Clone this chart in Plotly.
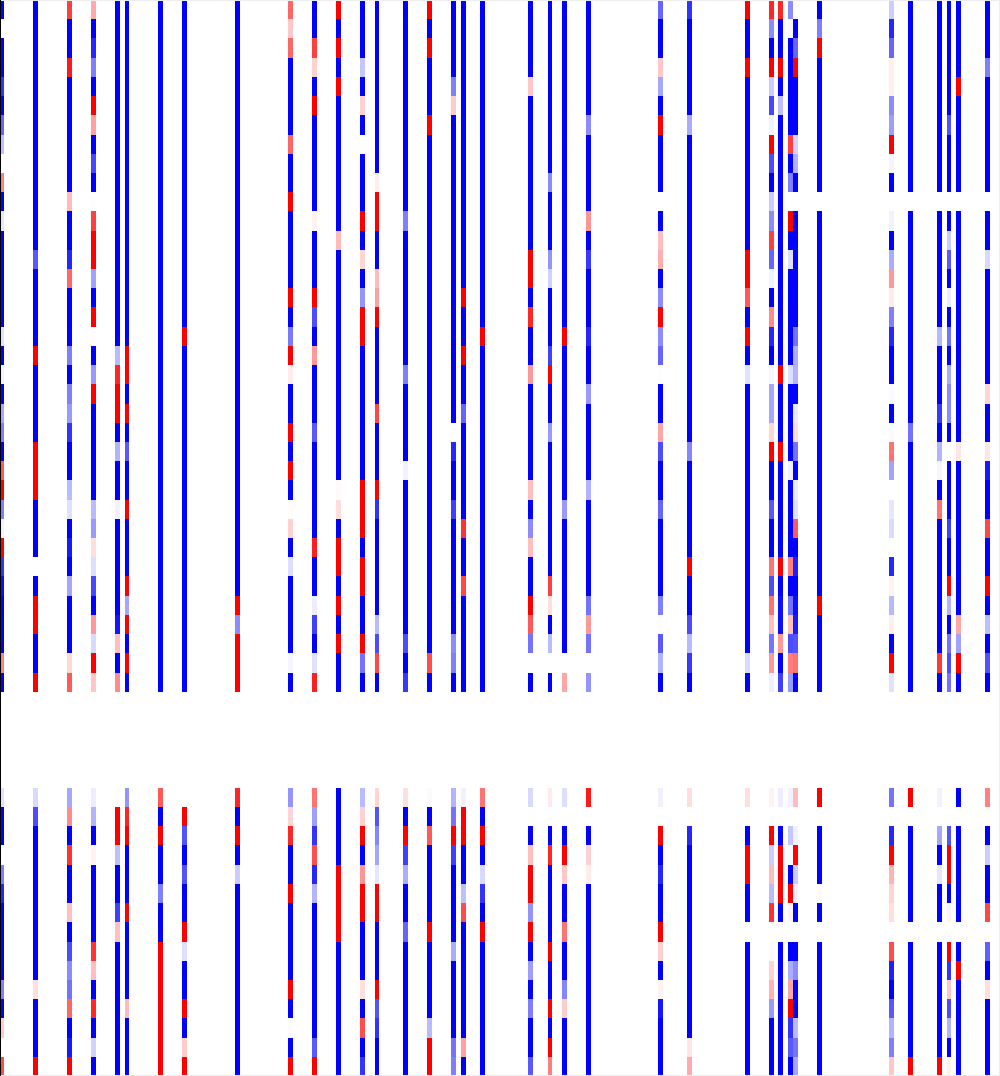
import plotly.graph_objects as go

B = -1
R = 1
COLUMN_COUNT = 208
ROW_COUNT = 56

# Each list holds rows 0-35, five blank rows 36-40, then rows 41-55.
col_000 = [B,0,B,B,-.8,B, -.6,-.25,0,.5,B,-.1, B,B,B,B,B,-.12,
           B,-.05,B,-.35,-.5,B, .65,R,-.5,-.05,R,-.8, -.95,B,B,B,.5,B, 0,0,0,0,0,
           -.12,B,B,0,-.5,-.85, B,B,B,B,-.5,B, .2,0,.7]
col_007 = [B,B,B,B,B,B, B,B,B,B,B,B, B,-.65,B,B,B,B,
           R,B,B,B,B,R, R,R,B,B,B,0, B,R,R,B,B,R, 0,0,0,0,0,
           -.15,-.7,B,B,B,B, B,B,B,B,.13,B, B,B,R]
col_014 = [.75,B,B,.9,B,B, B,B,B,B,.27,B, B,-.85,.6,B,B,B,
           -.5,B,-.5,-.4,-.8,B, B,-.27,-.12,B,-.9,B, -.35,B,B,B,.15,.65, 0,0,0,0,0,
           -.35,.45,B,.8,B,B, .25,B,-.7,-.45,-.55,.6, B,-.9,R]
col_019 = [.33,B,-.85,-.5,B,R, .37,B,-.72,B,.01,.75, R,R,-.37,B,R,.01,
           B,-.4,R,B,B,B, B,B,-.27,-.4,.13,-.13, -.72,B,.4,-.15,R,.22, 0,0,0,0,0,
           -.07,-.3,B,.05,B,B, B,B,.8,.25,B,.85, B,-.18,B]
col_024 = [B,B,B,B,B,B, B,B,B,B,B,B, B,B,B,B,B,B,
           -.27,.85,R,R,B,-.3, B,B,-.05,B,B,B, B,B,-.92,.25,B,.45, 0,0,0,0,0,
           .01,R,R,-.25,B,B, -.75,.25,B,B,B,B, B,B,B]
col_026 = [B,B,B,B,B,B, B,B,B,B,B,B, B,B,B,B,B,B,
           R,R,B,R,B,-.65, B,B,R,B,B,B, R,-.35,R,B,R,B, 0,0,0,0,0,
           -.42,.85,R,B,B,B, R,B,B,B,B,.27, B,B,B]
col_033 = [B,B,B,B,B,B, B,B,B,B,B,B, B,B,B,B,B,B,
           B,B,B,B,B,B, B,B,B,B,B,B, B,B,B,B,B,B, 0,0,0,0,0,
           .65,B,R,B,B,-.5, B,B,R,R,R,R, R,R,R]
col_038 = [B,B,B,B,B,B, B,B,B,B,B,B, B,B,B,B,B,R,
           B,B,B,B,B,B, B,B,B,B,B,B, B,B,B,B,B,B, 0,0,0,0,0,
           0,R,-.68,B,-.68,B, B,R,-.13,B,B,R, B,.2,R]
col_049 = [B,B,B,B,B,B, B,B,B,B,B,B, B,B,B,B,B,B,
           B,B,B,B,B,B, B,B,B,B,B,B, B,R,-.45,R,R,R, 0,0,0,0,0,
           .85,B,R,B,-.2,B, B,B,B,B,B,B, B,B,B]
col_060 = [.6,.22,.6,B,B,B, B,.6,B,B,R,B, B,B,B,R,B,-.52,
           R,.07,B,B,R,B, R,B,.01,.18,B,-.13, B,B,B,B,-.04,B, 0,0,0,0,0,
           -.42,.17,.85,B,B,R, B,B,B,B,R,B, -.01,B,R]
col_065 = [B,B,.75,.18,B,R, B,B,B,B,B,.05, B,B,B,R,-.7,B,
           .4,B,B,B,-.65,B, B,B,B,B,.88,B, B,-.07,-.75,B,-.12,.88, 0,0,0,0,0,
           .55,-.38,-.8,.7,-.85,-.3, B,B,B,B,B,B, B,-.65,R]
col_070 = [R,B,R,B,R,B, B,B,B,B,B,B, .27,B,B,B,B,B,
           B,B,B,B,B,B, B,.02,.13,B,R,R, B,R,B,R,B,B, 0,0,0,0,0,
           B,B,B,B,R,R, R,R,B,B,B,B, B,B,B]
col_075 = [B,B,B,-.22,B,.18, B,0,B,B,B,R, B,.17,B,-.42,R,R,
           B,B,B,B,B,B, B,R,R,R,B,R, R,B,B,R,-.55,B, 0,0,0,0,0,
           -.27,.18,R,B,.42,R, R,B,B,B,.12,B, .7,B,-.8]
col_078 = [B,B,B,B,B,B, B,B,B,.07,R,R, B,B,.27,.37,R,B,
           B,B,B,.72,B,B, B,R,-.8,B,B,B, B,B,-.27,-.7,.72,B, 0,0,0,0,0,
           .17,-.68,-.48,-.35,-.1,R, R,B,B,B,R,-.68, -.8,B,B]
col_084 = [B,B,B,B,B,B, B,B,B,B,B,-.5, B,B,B,B,B,B,
           B,-.5,B,B,B,B, -.05,B,B,B,B,B, B,B,B,-.7,B,-.78, 0,0,0,0,0,
           .12,B,R,-.75,-.32,B, B,-.6,B,B,B,B, B,B,B]
col_089 = [R,B,R,B,B,B, R,B,B,B,B,B, B,B,B,B,B,B,
           B,B,B,B,B,B, B,B,B,B,B,B, B,B,B,B,.7,B, 0,0,0,0,0,
           -.02,B,.65,B,B,B, B,R,B,B,B,B, -.27,R,R]
col_094 = [B,B,B,B,-.5,.2, B,B,B,B,B,B, B,B,B,B,B,B,
           B,B,B,B,0,-.85, B,B,-.75,B,B,B, B,B,B,-.45,-.5,B, 0,0,0,0,0,
           -.3,-.55,R,-.75,B,B, B,B,-.33,B,B,B, B,-.55,-.5]
col_096 = [B,B,B,B,B,B, B,B,B,B,B,B, B,B,B,R,B,B,
           R,B,B,-.6,B,B, B,B,B,.8,B,B, .72,B,B,B,B,B, 0,0,0,0,0,
           -.05,R,R,B,B,-.25, .7,B,B,B,B,B, B,.37,B]
col_100 = [B,B,B,B,B,B, B,B,B,B,B,B, B,B,B,B,B,R,
           B,B,B,B,B,B, B,B,B,B,B,B, B,B,B,B,B,B, 0,0,0,0,0,
           .55,B,R,B,-.15,-.8, B,R,B,B,B,B, B,B,B]
col_110 = [B,B,B,B,.22,B, B,B,B,B,B,B, B,R,R,B,.85,B,
           B,.4,B,B,B,B, B,.25,B,-.45,.25,B, B,R,.65,-.55,0,B, 0,0,0,0,0,
           -.15,0,B,.25,R,R, -.42,R,B,-.38,B,-.5, B,B,-.65]
col_114 = [B,B,B,B,B,B, B,B,B,-.45,B,B, B,-.42,-.18,B,B,B,
           -.75,R,B,B,-.4,B, B,B,B,B,B,B, .75,.13,B,-.27,0,B, 0,0,0,0,0,
           .08,0,B,.85,B,B, B,B,R,B,B,R, B,R,.5]
col_117 = [B,B,B,B,B,B, B,B,B,B,B,B, B,B,B,B,B,R,
           B,B,B,B,B,B, B,B,-.4,B,B,B, B,B,B,B,0,.35, 0,0,0,0,0,
           -.13,0,B,R,.22,B, B,.55,B,B,-.48,.2, B,B,B]
col_122 = [B,B,B,B,B,B, -.45,B,B,B,B,.42, B,-.78,B,B,B,-.85,
           B,B,-.4,B,B,B, B,-.3,B,B,B,B, B,-.55,.4,-.55,0,-.42, 0,0,0,0,0,
           .9,0,B,.18,.07,B, B,B,B,B,B,B, B,B,B]
col_137 = [-.6,B,B,.22,-.35,B, R,B,B,B,0,B, .25,.32,B,-.45,R,-.45,
           -.6,.01,B,B,.35,-.7, B,B,-.6,B,B,B, B,-.5,.01,-.65,-.3,B, 0,0,0,0,0,
           -.06,0,R,B,-.85,B, B,R,.18,B,.05,-.92, B,B,B]
col_143 = [-.8,B,B,B,B,B, -.33,B,B,B,B,B, B,B,B,B,B,B,
           B,B,B,B,B,-.48, B,B,B,B,B,R, B,B,-.7,-.27,-.78,B, 0,0,0,0,0,
           .13,0,-.85,B,B,B, B,B,B,B,B,B, B,.1,.33]
col_155 = [R,B,B,R,B,B, B,B,B,B,B,B, B,R,R,.65,B,R,
           B,-.12,B,B,B,B, B,B,B,B,B,B, B,B,B,B,-.15,B, 0,0,0,0,0,
           .12,0,B,R,R,B, B,0,B,B,B,B, B,B,B]
col_160 = [.85,-.45,B,R,-.2,-.72, -.05,R,-.7,B,-.2,-.45, .75,-.6,-.05,B,.45,-.85,
           B,-.03,-.35,-.35,.17,R, B,B,-.65,B,B,.55, -.7,.55,.25,-.55,.4,-.06, 0,0,0,0,0,
           .05,0,R,-.2,.27,-.27, .8,0,-.02,.18,.3,-.4, B,B,B]
col_162 = [.85,B,B,R,B,-.25, B,B,B,B,B,B, B,B,B,B,B,B,
           B,R,B,B,B,R, B,B,B,B,B,R, B,-.95,-.95,.4,B,-.75, 0,0,0,0,0,
           -.07,0,B,R,R,R, B,0,B,B,B,B, B,B,B]
col_164 = [-.45,-.02,B,B,B,B, B,.75,B,-.5,0,R, B,-.13,B,B,B,B,
           B,-.13,B,B,B,B, -.05,B,B,B,B,.5, B,-.55,.25,-.7,.5,-.4, 0,0,0,0,0,
           -.05,0,-.22,-.02,B,R, .05,0,B,-.32,.35,R, -.8,-.65,B]
col_165 = [0,B,-.6,R,B,B, B,-.17,-.3,B,0,B, B,B,B,B,B,-.55,
           -.32,-.3,B,-.08,.13,-.55, B,-.08,-.12,.65,B,-.88, B,-.95,-.9,-.68,.55,B, 0,0,0,0,0,
           .27,0,-.05,R,-.2,-.05, B,0,B,-.45,B,B, -.27,-.55,-.35]
col_170 = [B,-.5,R,B,B,B, B,B,B,B,0,B, B,B,B,B,B,B,
           B,B,B,B,B,B, B,B,B,B,B,B, B,R,B,B,B,B, 0,0,0,0,0,
           R,0,B,B,B,.02, B,0,B,B,B,B, B,B,B]
col_185 = [-.2,-.85,-.6,.06,.06,-.45, -.38,R,-.04,B,0,-.05, B,-.33,.4,.08,-.5,-.85,
           B,B,-.02,B,-.02,.55, -.37,0,-.1,-.14,0,-.85, .05,-.28,.06,B,R,-.12, 0,0,0,0,0,
           -.55,0,-.85,R,.3,.17, .13,0,.7,-.88,B,-.65, -.3,-.5,.22]
col_189 = [B,B,B,B,B,B, B,B,B,B,0,B, B,B,B,B,B,B,
           B,B,B,B,-.55,B, B,B,B,B,B,B, B,B,B,B,B,B, 0,0,0,0,0,
           R,0,B,B,B,B, B,0,B,B,B,B, B,B,R]
col_195 = [B,B,B,B,B,B, B,B,B,B,0,B, B,B,B,B,B,-.28,
           B,B,B,-.78,B,-.3, -.04,B,.55,B,B,B, B,B,B,B,.78,B, 0,0,0,0,0,
           -.05,0,-.35,B,-.1,B, B,0,B,B,B,B, B,B,R]
col_197 = [B,B,B,B,B,B, -.68,B,B,B,0,B, -.2,-.65,B,-.07,B,-.55,
           B,-.33,-.45,-.45,B,0, B,B,B,-.75,B,B, R,-.3,B,-.55,-.7,-.55, 0,0,0,0,0,
           0,0,-.68,R,R,B, .05,0,R,-.8,.22,-.7, -.3,B,.05]
col_199 = [B,B,B,B,R,B, B,B,B,B,0,B, B,B,B,B,B,B,
           B,B,B,B,B,.1, B,B,B,B,B,B, B,B,.35,-.37,R,B, 0,0,0,0,0,
           B,0,B,B,B,B, B,0,B,R,B,B, B,B,B]
col_205 = [B,B,B,-.5,B,B, B,B,B,B,0,B, B,-.15,B,B,B,B,
           B,B,.17,B,B,.1, -.9,B,B,.72,B,B, R,B,-.25,B,-.68,B, 0,0,0,0,0,
           .5,0,B,-.2,B,B, .72,0,-.62,B,.13,B, B,B,B]

columns = {
    0: col_000, 7: col_007, 14: col_014, 19: col_019, 24: col_024, 26: col_026,
    33: col_033, 38: col_038, 49: col_049, 60: col_060, 65: col_065, 70: col_070,
    75: col_075, 78: col_078, 84: col_084, 89: col_089, 94: col_094, 96: col_096,
    100: col_100, 110: col_110, 114: col_114, 117: col_117, 122: col_122,
    137: col_137, 143: col_143, 155: col_155, 160: col_160, 162: col_162,
    164: col_164, 165: col_165, 170: col_170, 185: col_185, 189: col_189,
    195: col_195, 197: col_197, 199: col_199, 205: col_205,
}

for index, values in columns.items():
    if len(values) != ROW_COUNT:
        raise ValueError(f"column {index} has {len(values)} rows")

empty = [0] * ROW_COUNT
z = [[columns.get(c, empty)[r] for c in range(COLUMN_COUNT)] for r in range(ROW_COUNT)]

fig = go.Figure(
    go.Heatmap(
        z=z,
        x=list(range(COLUMN_COUNT)),
        y=list(range(ROW_COUNT)),
        zmin=-1,
        zmax=1,
        colorscale=[[0, "#0000ff"], [0.5, "#ffffff"], [1, "#ff0000"]],
        showscale=False,
        xgap=0,
        ygap=0,
    )
)

frame = "#eeeeee"
fig.update_layout(
    width=1000,
    height=1076,
    margin=dict(l=0, r=0, t=0, b=0),
    paper_bgcolor="white",
    plot_bgcolor="white",
    xaxis=dict(visible=False, range=[-0.396, COLUMN_COUNT - 0.396]),
    yaxis=dict(visible=False, range=[ROW_COUNT - 0.5, -0.5]),
    shapes=[
        dict(type="line", xref="paper", yref="paper", x0=0, x1=1, y0=0.9995, y1=0.9995, line=dict(color=frame, width=1)),
        dict(type="line", xref="paper", yref="paper", x0=0, x1=1, y0=0.0005, y1=0.0005, line=dict(color=frame, width=1)),
        dict(type="line", xref="paper", yref="paper", x0=0.9995, x1=0.9995, y0=0, y1=1, line=dict(color=frame, width=1)),
        dict(type="line", xref="paper", yref="paper", x0=0.0005, x1=0.0005, y0=0, y1=1, line=dict(color="#000000", width=1)),
    ],
)

fig.write_html(
    "out.html",
    config={"displayModeBar": False},
    post_script="document.body.style.margin='0';",
)
